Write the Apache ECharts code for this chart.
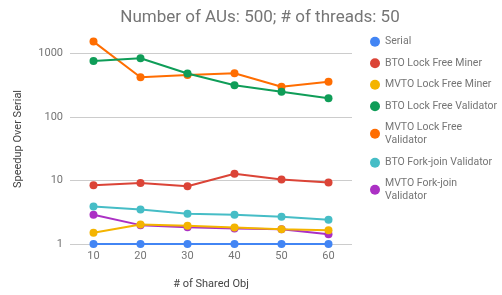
<!DOCTYPE html>
<html>
<head>
<meta charset="utf-8">
<script src="https://cdn.jsdelivr.net/npm/echarts@6/dist/echarts.min.js"></script>
<style>
  html, body { margin: 0; padding: 0; background: #fff; }
  #main { width: 502px; height: 295px; }
</style>
</head>
<body>
<div id="main"></div>
<script>
// 横轴：共享对象数
var sharedObj = ['10', '20', '30', '40', '50', '60'];

// 各算法加速比
var serial = [1, 1, 1, 1, 1, 1];
var btoLockFreeMiner = [8.4, 9.1, 8.1, 12.7, 10.3, 9.3];
var mvtoLockFreeMiner = [1.5, 2.03, 1.94, 1.82, 1.7, 1.65];
var btoLockFreeValidator = [755, 830, 480, 313, 247, 196];
var mvtoLockFreeValidator = [1520, 418, 455, 482, 296, 354];
var btoForkJoinValidator = [3.87, 3.48, 2.98, 2.88, 2.68, 2.4];
var mvtoForkJoinValidator = [2.88, 1.98, 1.84, 1.76, 1.71, 1.42];

var names = ['Serial', 'BTO Lock Free Miner', 'MVTO Lock Free Miner', 'BTO Lock Free Validator',
    'MVTO Lock Free Validator', 'BTO Fork-join Validator', 'MVTO Fork-join Validator'];
var labels = ['Serial', 'BTO Lock Free Miner', 'MVTO Lock Free Miner', 'BTO Lock Free Validator',
    'MVTO Lock Free\nValidator', 'BTO Fork-join Validator', 'MVTO Fork-join\nValidator'];
var colors = ['#4285f4', '#db4437', '#f4b400', '#0f9d58', '#ff6d01', '#46bdc6', '#ab30c4'];
var datas = [serial, btoLockFreeMiner, mvtoLockFreeMiner, btoLockFreeValidator,
    mvtoLockFreeValidator, btoForkJoinValidator, mvtoForkJoinValidator];

// 图例圆点的纵向中心
var legendY = [41.7, 63.3, 84.8, 106.3, 128.3, 162.7, 184.2];

var font = 'Roboto, Arial, sans-serif';

var series = [];
var legends = [];
for (var i = 0; i < names.length; i++) {
    series.push({
        name: names[i],
        type: 'line',
        data: datas[i],
        symbol: 'circle',
        symbolSize: 8,
        lineStyle: { width: 2 },
        itemStyle: { color: colors[i] },
        z: 10 - i
    });
    var twoLine = labels[i].indexOf('\n') >= 0;
    legends.push({
        show: true,
        orient: 'vertical',
        left: 370,
        top: legendY[i] - 6.75,
        padding: 0,
        itemWidth: 10,
        itemHeight: 10,
        icon: 'circle',
        data: [{
            name: names[i],
            textStyle: twoLine ? { padding: [0, 0, -13.5, 0] } : {}
        }],
        formatter: (function (t) { return function () { return t; }; })(labels[i]),
        textStyle: { color: '#757575', fontSize: 10.5, fontFamily: font, lineHeight: 13.5 },
        selectedMode: false
    });
}

var myChart = echarts.init(document.getElementById('main'));
var option = {
    animation: false,
    backgroundColor: '#fff',
    title: {
        text: 'Number of AUs: 500; # of threads: 50',
        left: 255,
        textAlign: 'center',
        top: 4,
        textStyle: { color: '#757575', fontSize: 17, fontWeight: 'normal', fontFamily: font }
    },
    legend: legends,
    grid: { left: 70, right: 150, top: 34, bottom: 49.3 },
    xAxis: {
        type: 'category',
        data: sharedObj,
        boundaryGap: true,
        name: '# of Shared Obj',
        nameLocation: 'middle',
        nameGap: 35,
        nameTextStyle: { color: '#444', fontSize: 11, fontFamily: font },
        axisLine: { show: false },
        axisTick: { show: false },
        axisLabel: { color: '#757575', fontSize: 11, fontFamily: font, margin: 7 }
    },
    yAxis: {
        type: 'log',
        logBase: 10,
        min: 1,
        max: 2000,
        name: 'Speedup Over Serial',
        nameLocation: 'middle',
        nameGap: 46,
        nameTextStyle: { color: '#444', fontSize: 11, fontFamily: font },
        axisLine: { show: false },
        axisTick: { show: false },
        axisLabel: {
            color: '#757575', fontSize: 11, fontFamily: font, margin: 7, showMaxLabel: false,
            formatter: function (v) { return String(v); }
        },
        splitLine: { lineStyle: { color: '#cccccc', width: 1 }, showMaxLine: false }
    },
    series: series
};
myChart.setOption(option);
</script>
</body>
</html>
